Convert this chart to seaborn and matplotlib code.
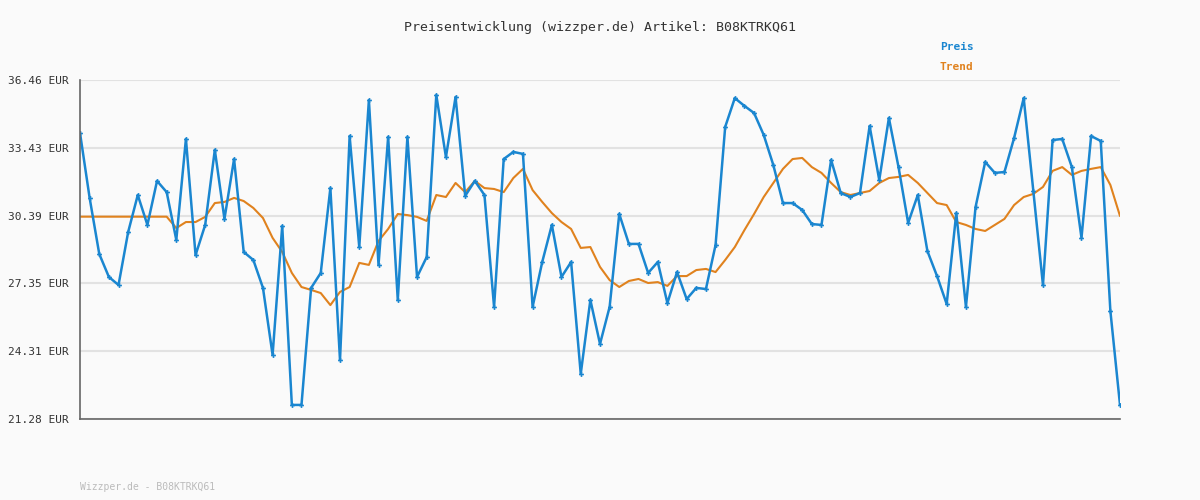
import numpy as np
import pandas as pd
import matplotlib
matplotlib.use("Agg")
import matplotlib.pyplot as plt
import seaborn as sns

# price readings (EUR), one per observation
preis = [
    34.09, 31.18, 28.67, 27.64, 27.28, 29.65, 31.31, 29.97, 31.94, 31.44,
    29.30, 33.82, 28.62, 29.97, 33.33, 30.24, 32.92, 28.76, 28.40, 27.15,
    24.15, 29.92, 21.91, 21.91, 27.15, 27.82, 31.62, 23.92, 33.95, 28.98,
    35.56, 28.18, 33.91, 26.61, 33.91, 27.64, 28.53, 35.79, 33.01, 35.70,
    31.27, 31.94, 31.31, 26.30, 32.92, 33.24, 33.15, 26.30, 28.31, 29.97,
    27.64, 28.31, 23.30, 26.61, 24.64, 26.30, 30.46, 29.12, 29.12, 27.82,
    28.31, 26.47, 27.86, 26.65, 27.15, 27.10, 29.07, 34.36, 35.65, 35.30,
    34.98, 34.00, 32.65, 30.95, 30.95, 30.64, 30.01, 29.97, 32.88, 31.40,
    31.22, 31.40, 34.40, 31.98, 34.76, 32.56, 30.06, 31.31, 28.80, 27.68,
    26.43, 30.50, 26.30, 30.77, 32.79, 32.30, 32.34, 33.86, 35.65, 31.49,
    27.28, 33.77, 33.82, 32.56, 29.39, 33.95, 33.73, 26.12, 21.91,
]
trend = [
    30.34, 30.34, 30.34, 30.34, 30.34, 30.34, 30.34, 30.34, 30.34, 30.34,
    29.83, 30.10, 30.10, 30.33, 30.95, 31.00, 31.18, 31.04, 30.73, 30.28,
    29.39, 28.76, 27.82, 27.19, 27.06, 26.92, 26.38, 26.97, 27.19, 28.27,
    28.18, 29.25, 29.79, 30.46, 30.41, 30.33, 30.15, 31.31, 31.22, 31.85,
    31.44, 31.94, 31.62, 31.58, 31.44, 32.07, 32.48, 31.53, 31.00, 30.50,
    30.10, 29.79, 28.94, 28.98, 28.09, 27.50, 27.19, 27.46, 27.55, 27.37,
    27.41, 27.24, 27.68, 27.68, 27.95, 28.00, 27.86, 28.40, 28.98, 29.74,
    30.46, 31.22, 31.85, 32.48, 32.92, 32.97, 32.56, 32.30, 31.85, 31.44,
    31.31, 31.40, 31.49, 31.85, 32.07, 32.12, 32.21, 31.85, 31.40, 30.95,
    30.86, 30.10, 29.97, 29.79, 29.70, 29.97, 30.24, 30.86, 31.22, 31.36,
    31.67, 32.39, 32.56, 32.21, 32.39, 32.48, 32.56, 31.76, 30.37,
]
y_ticks = [21.28, 24.31, 27.35, 30.39, 33.43, 36.46]

blue = "#1a86d0"
orange = "#e0821e"
bg = "#fafafa"

df = pd.DataFrame({"idx": range(len(preis)), "Preis": preis, "Trend": trend})

sns.set_style("white")
plt.rcParams["font.family"] = ["DejaVu Sans Mono"]

fig = plt.figure(figsize=(12, 5), dpi=100, facecolor=bg)
ax = fig.add_axes([80 / 1200, 1 - 419 / 500, 1040 / 1200, 339 / 500])
ax.set_facecolor(bg)

sns.lineplot(data=df, x="idx", y="Trend", ax=ax, color=orange, linewidth=1.5)
sns.lineplot(data=df, x="idx", y="Preis", ax=ax, color=blue, linewidth=1.8,
             marker="P", markersize=3.5, markeredgewidth=0)

ax.set_xlim(0, len(preis) - 1)
ax.set_ylim(y_ticks[0], y_ticks[-1])
ax.set_yticks(y_ticks)
ax.set_yticklabels([f"{v:.2f} EUR" for v in y_ticks], fontsize=8, color="#333333")
ax.set_xticks([])
ax.set_xlabel("")
ax.set_ylabel("")
ax.grid(axis="y", color="#e2e2e2", linewidth=1.5)
ax.tick_params(axis="y", length=4, width=1, color="#555555", pad=4)
for s in ["top", "right"]:
    ax.spines[s].set_visible(False)
ax.spines["left"].set_color("#666666")
ax.spines["bottom"].set_color("#666666")
ax.spines["left"].set_linewidth(1.2)
ax.spines["bottom"].set_linewidth(1.2)

fig.text(0.5, 1 - 28 / 500, "Preisentwicklung (wizzper.de) Artikel: B08KTRKQ61",
         ha="center", va="center", fontsize=9.5, color="#333333")
fig.text(940 / 1200, 1 - 47 / 500, "Preis", color=blue, fontsize=8,
         fontweight="bold", va="center")
fig.text(940 / 1200, 1 - 67 / 500, "Trend", color=orange, fontsize=8,
         fontweight="bold", va="center")
fig.text(80 / 1200, 1 - 487 / 500, "Wizzper.de - B08KTRKQ61", color="#bbbbbb",
         fontsize=7, va="center")

fig.savefig("out.png", dpi=100, facecolor=bg)
